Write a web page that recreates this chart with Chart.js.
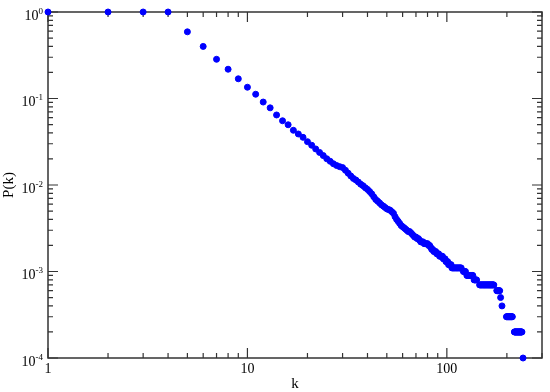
<!DOCTYPE html>
<html>
<head>
<meta charset="utf-8">
<script src="https://cdn.jsdelivr.net/npm/chart.js@4.4.1/dist/chart.umd.min.js"></script>
<style>
  html, body { margin: 0; padding: 0; background: #fff; }
  #wrap { width: 550px; height: 392px; position: relative; }
</style>
</head>
<body>
<div id="wrap"><canvas id="degreeChart"></canvas></div>
<script>
// Degree distribution, values
const degrees = [
  1, 2, 3, 4, 5, 6, 7, 8, 9, 10,
  11, 12, 13, 14, 15, 16, 17, 18, 19, 20,
  21, 22, 23, 24, 25, 26, 27, 28, 29, 30,
  31, 32, 33, 34, 35, 36, 37, 38, 39, 40,
  41, 42, 43, 44, 45, 46, 47, 48, 49, 50,
  51, 52, 53, 54, 55, 56, 57, 58, 59, 60,
  61, 62, 63, 64, 65, 66, 67, 68, 69, 70,
  71, 72, 73, 74, 75, 76, 77, 78, 79, 80,
  81, 82, 83, 84, 85, 86, 87, 88, 89, 90,
  91, 92, 93, 94, 95, 96, 97, 98, 99, 100,
  101, 102, 103, 104, 105,
  106, 107, 108, 109, 110, 111, 112, 113, 114, 115, 116, 117, 118,
  121, 122, 123, 124,
  126, 127, 128, 129, 130, 131, 132, 133, 134, 135,
  137, 138, 139, 140, 141,
  146, 147, 148, 149, 150, 151, 152, 153, 154, 155, 156, 157, 158, 159,
  160, 161, 162, 163, 164, 165, 166, 167, 168, 169, 170, 171, 172,
  178, 179, 180, 181, 182, 183, 184,
  186,
  189,
  199, 200, 201, 202, 203, 204, 205, 206, 207, 208, 209, 210, 211, 212, 213,
  218, 219, 220, 221, 222, 223, 224, 225, 226, 227, 228, 229, 230, 231, 232,
  233, 234, 235, 236, 237, 238,
  241
];

const probabilities = [
  1, 1, 1, 1, 0.59, 0.40, 0.284, 0.218, 0.169, 0.135,
  0.112, 0.091, 0.078, 0.0645, 0.0553, 0.0497, 0.0429, 0.0389, 0.0356, 0.0317,
  0.0288, 0.0261, 0.0238, 0.0219, 0.0201, 0.0188, 0.0176, 0.0168, 0.0163, 0.0159,
  0.0148, 0.0137, 0.0127, 0.0119, 0.0114, 0.0108, 0.0102, 0.0098, 0.0093, 0.0089,
  0.0084, 0.0079, 0.0073, 0.0068, 0.0065, 0.0062, 0.0059, 0.0057, 0.0055, 0.0053,
  0.0052, 0.0051, 0.0049, 0.0047, 0.0043, 0.0040, 0.0038, 0.0036, 0.0034, 0.0033,
  0.0032, 0.0031, 0.0030, 0.0029, 0.0029, 0.0028, 0.0027, 0.0026, 0.0025, 0.0025,
  0.0024, 0.0024, 0.0023, 0.0022, 0.0022, 0.0022, 0.0021, 0.0021, 0.0021, 0.0021,
  0.0020, 0.0020, 0.0019, 0.0018, 0.0018, 0.0017, 0.0017, 0.0017, 0.0016, 0.0016,
  0.0016, 0.0015, 0.0015, 0.0015, 0.0015, 0.0014, 0.0014, 0.0014, 0.0013, 0.0013,
  0.0013, 0.0012, 0.0012, 0.0012, 0.0012,
  0.0011, 0.0011, 0.0011, 0.0011, 0.0011, 0.0011, 0.0011, 0.0011, 0.0011, 0.0011, 0.0011, 0.0011, 0.0011,
  0.0010, 0.0010, 0.0010, 0.0010,
  0.0009, 0.0009, 0.0009, 0.0009, 0.0009, 0.0009, 0.0009, 0.0009, 0.0009, 0.0009,
  0.0008, 0.0008, 0.0008, 0.0008, 0.0008,
  0.0007, 0.0007, 0.0007, 0.0007, 0.0007, 0.0007, 0.0007, 0.0007, 0.0007, 0.0007, 0.0007, 0.0007, 0.0007, 0.0007,
  0.0007, 0.0007, 0.0007, 0.0007, 0.0007, 0.0007, 0.0007, 0.0007, 0.0007, 0.0007, 0.0007, 0.0007, 0.0007,
  0.0006, 0.0006, 0.0006, 0.0006, 0.0006, 0.0006, 0.0006,
  0.0005,
  0.0004,
  0.0003, 0.0003, 0.0003, 0.0003, 0.0003, 0.0003, 0.0003, 0.0003, 0.0003, 0.0003, 0.0003, 0.0003, 0.0003, 0.0003, 0.0003,
  0.0002, 0.0002, 0.0002, 0.0002, 0.0002, 0.0002, 0.0002, 0.0002, 0.0002, 0.0002, 0.0002, 0.0002, 0.0002, 0.0002, 0.0002,
  0.0002, 0.0002, 0.0002, 0.0002, 0.0002, 0.0002,
  0.0001
];

// Axis ticks
const xTickValues = [1, 10, 100];
const xTickLabels = ['1', '10', '100'];
const yTickExponents = [0, -1, -2, -3, -4];
const xTitle = 'k';
const yTitle = 'P(k)';

const axisColor = '#333';
const serif = '"Liberation Serif", "Times New Roman", serif';

// Mirrored inward ticks on all four sides plus the frame, xmgrace style
const framePlugin = {
    id: 'frame',
    beforeDatasetsDraw(chart) {
        const { ctx, chartArea: a, scales } = chart;
        const xs = scales.x, ys = scales.y;
        ctx.save();
        ctx.strokeStyle = axisColor;
        ctx.lineWidth = 1.5;
        ctx.strokeRect(a.left, a.top, a.right - a.left, a.bottom - a.top);

        ctx.lineWidth = 1.2;
        ctx.beginPath();
        // x ticks
        for (let d = 0; d <= 2; d++) {
            for (let m = 1; m <= 9; m++) {
                const v = m * Math.pow(10, d);
                if (v > xs.max) break;
                const px = xs.getPixelForValue(v);
                const len = m === 1 ? 10 : 5;
                ctx.moveTo(px, a.bottom); ctx.lineTo(px, a.bottom - len);
                ctx.moveTo(px, a.top); ctx.lineTo(px, a.top + len);
            }
        }
        // y ticks
        for (let e = -4; e <= 0; e++) {
            for (let m = 1; m <= 9; m++) {
                const v = m * Math.pow(10, e);
                if (v > ys.max + 1e-12) break;
                const py = ys.getPixelForValue(v);
                const len = m === 1 ? 10 : 5;
                ctx.moveTo(a.left, py); ctx.lineTo(a.left + len, py);
                ctx.moveTo(a.right, py); ctx.lineTo(a.right - len, py);
            }
        }
        ctx.stroke();
        ctx.restore();
    },
    afterDraw(chart) {
        const { ctx, chartArea: a, scales } = chart;
        ctx.save();
        ctx.fillStyle = '#000';

        // x tick labels
        ctx.font = '14px ' + serif;
        ctx.textAlign = 'center';
        ctx.textBaseline = 'alphabetic';
        xTickValues.forEach((v, i) => {
            ctx.fillText(xTickLabels[i], scales.x.getPixelForValue(v), a.bottom + 15);
        });

        // y tick labels as 10 with a raised exponent
        yTickExponents.forEach(e => {
            const py = scales.y.getPixelForValue(Math.pow(10, e));
            const sup = String(e);
            ctx.font = '9px ' + serif;
            const supW = ctx.measureText(sup).width;
            const right = a.left - 5;
            ctx.textAlign = 'left';
            ctx.fillText(sup, right - supW, py + 1.5);
            ctx.font = '14px ' + serif;
            ctx.textAlign = 'right';
            ctx.fillText('10', right - supW, py + 7.5);
        });

        // axis titles
        ctx.font = '15px ' + serif;
        ctx.textAlign = 'center';
        ctx.fillText(xTitle, (a.left + a.right) / 2, a.bottom + 30);
        ctx.save();
        ctx.translate(9, (a.top + a.bottom) / 2);
        ctx.rotate(-Math.PI / 2);
        ctx.textBaseline = 'middle';
        ctx.fillText(yTitle, 0, 0);
        ctx.restore();
        ctx.restore();
    }
};

const ctx = document.getElementById('degreeChart').getContext('2d');

new Chart(ctx, {
    type: 'scatter',
    data: {
        datasets: [{
            label: yTitle,
            data: degrees.map((k, i) => ({ x: k, y: probabilities[i] })),
            backgroundColor: '#0000ff',
            borderColor: '#0000ff',
            borderWidth: 1,
            pointRadius: 3,
            pointHoverRadius: 3,
            clip: false
        }]
    },
    options: {
        responsive: true,
        maintainAspectRatio: false,
        animation: false,
        layout: {
            padding: { left: 48, top: 12, right: 8, bottom: 34 }
        },
        plugins: {
            legend: { display: false },
            tooltip: { enabled: false }
        },
        scales: {
            x: {
                type: 'logarithmic',
                min: 1,
                max: 300,
                display: false
            },
            y: {
                type: 'logarithmic',
                min: 0.0001,
                max: 1,
                display: false
            }
        }
    },
    plugins: [framePlugin]
});
</script>
</body>
</html>
